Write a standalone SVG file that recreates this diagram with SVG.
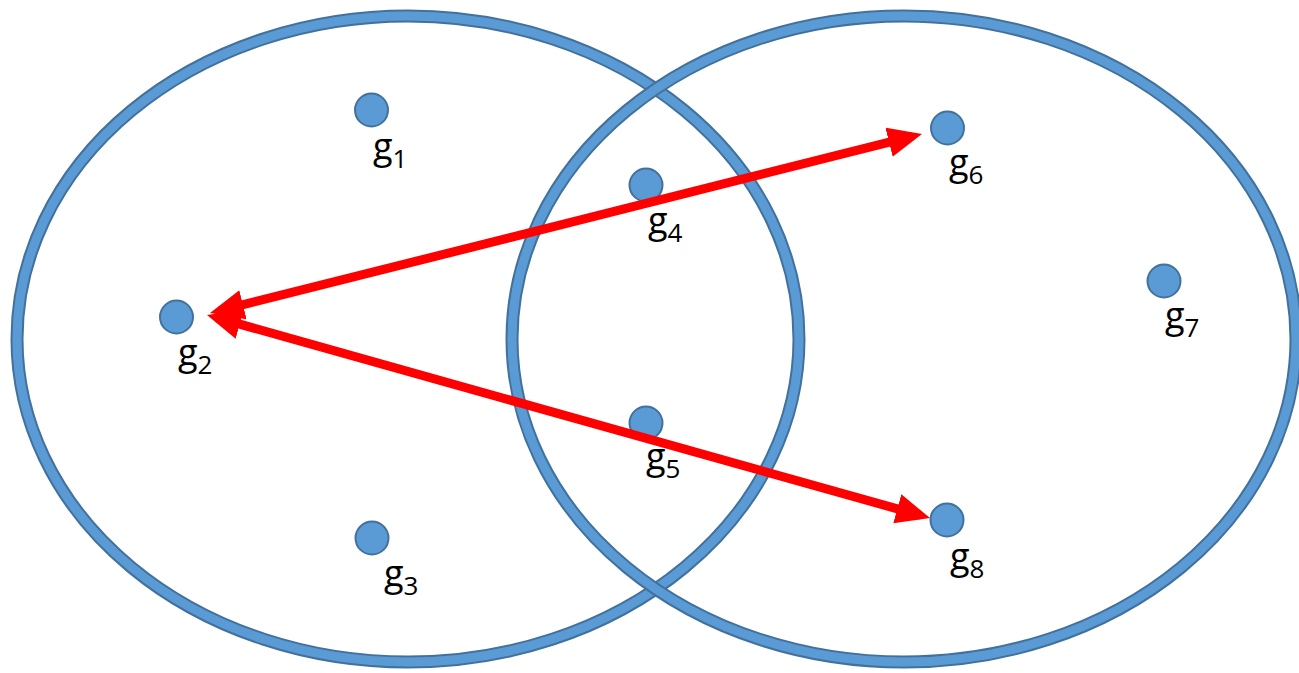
<svg xmlns="http://www.w3.org/2000/svg" width="1299" height="673" viewBox="0 0 1299 673">
<style>
.ring-o{fill:none;stroke:#41719C;stroke-width:13}
.ring-i{fill:none;stroke:#5B9BD5;stroke-width:9}
.dot{fill:#5B9BD5;stroke:#41719C;stroke-width:2}
.lbl{font-family:"Open Sans","Liberation Sans",sans-serif;font-size:36px;fill:#000}
.sub{font-size:26px}
.edge{stroke:#FF0000;stroke-width:9;fill:none}
</style>
<defs>
<marker id="ah" markerUnits="userSpaceOnUse" markerWidth="34" markerHeight="30" refX="24" refY="15" orient="auto-start-reverse" viewBox="0 0 34 30">
<path d="M0,0 L34,15 L0,30 z" fill="#FF0000"/>
</marker>
</defs>
<g id="set-left">
<ellipse class="ring-o" cx="408" cy="339" rx="391" ry="323"/>
<ellipse class="ring-i" cx="408" cy="339" rx="391" ry="323"/>
</g>
<g id="set-right">
<ellipse class="ring-o" cx="904" cy="339" rx="392" ry="323"/>
<ellipse class="ring-i" cx="904" cy="339" rx="392" ry="323"/>
</g>
<g id="g1"><circle class="dot" cx="371.5" cy="110" r="16.5"/><text class="lbl" x="373" y="159">g<tspan class="sub" dy="9">1</tspan></text></g>
<g id="g2"><circle class="dot" cx="176.5" cy="317" r="16.5"/><text class="lbl" x="178" y="365">g<tspan class="sub" dy="9">2</tspan></text></g>
<g id="g3"><circle class="dot" cx="372" cy="538" r="16.5"/><text class="lbl" x="384" y="586">g<tspan class="sub" dy="9">3</tspan></text></g>
<g id="g4"><circle class="dot" cx="646" cy="185" r="16.5"/><text class="lbl" x="648" y="233">g<tspan class="sub" dy="9">4</tspan></text></g>
<g id="g5"><circle class="dot" cx="646" cy="423" r="16.5"/><text class="lbl" x="646" y="469">g<tspan class="sub" dy="9">5</tspan></text></g>
<g id="g6"><circle class="dot" cx="947.5" cy="128" r="16.5"/><text class="lbl" x="949" y="175">g<tspan class="sub" dy="9">6</tspan></text></g>
<g id="g7"><circle class="dot" cx="1164" cy="281" r="16.5"/><text class="lbl" x="1165" y="328">g<tspan class="sub" dy="9">7</tspan></text></g>
<g id="g8"><circle class="dot" cx="947" cy="520" r="16.5"/><text class="lbl" x="950" y="569">g<tspan class="sub" dy="9">8</tspan></text></g>
<g id="connectors">
<line class="edge" x1="219.7" y1="310.6" x2="912.3" y2="136.4" marker-start="url(#ah)" marker-end="url(#ah)"/>
<line class="edge" x1="216.6" y1="317.7" x2="920.4" y2="515.3" marker-start="url(#ah)" marker-end="url(#ah)"/>
</g>
</svg>
